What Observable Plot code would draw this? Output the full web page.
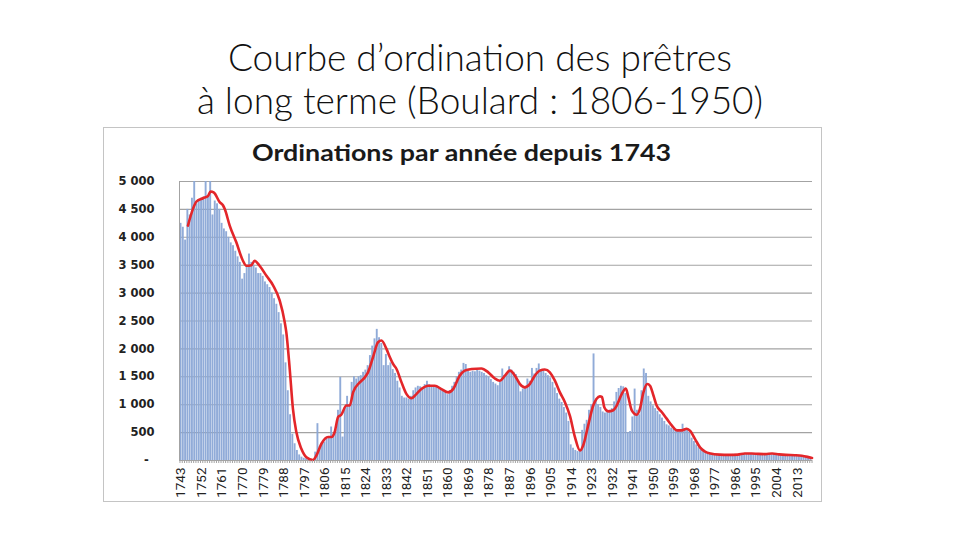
<!DOCTYPE html>
<html>
<head>
<meta charset="utf-8">
<script src="https://cdn.jsdelivr.net/npm/d3@7"></script>
<script src="https://cdn.jsdelivr.net/npm/@observablehq/plot@0.6"></script>
<style>
  html, body { margin: 0; padding: 0; background: #fff; width: 960px; height: 540px; overflow: hidden; }
  #slide-title { position: absolute; left: 0; top: 35px; width: 960px; text-align: center;
    font-family: Lato, "Open Sans", sans-serif; font-weight: 300; font-size: 37px; line-height: 43px; color: #111; }
  #frame { position: absolute; left: 103px; top: 127px; width: 719px; height: 375px;
    border: 1px solid #c4c4c4; box-sizing: border-box; }
  #chart-title { position: absolute; left: 103px; width: 719px; top: 139px; text-align: center;
    font-family: Lato, "Open Sans", sans-serif; font-weight: 700; font-size: 22px; color: #1a1a1a;
    transform: scaleX(1.22); transform-origin: 364px 50%; }
  #chart { position: absolute; left: 0; top: 0; }
  #chart g[aria-label="y-axis tick label"] { font-family: "DejaVu Sans", sans-serif; font-weight: bold; font-size: 11.5px; fill: #222; }
  #chart g[aria-label="x-axis tick label"] { font-family: "Liberation Sans Narrow", "Roboto", sans-serif; font-size: 13.5px; fill: #222; }
</style>
</head>
<body>
<div id="slide-title">Courbe d’ordination des prêtres<br>à long terme (Boulard : 1806-1950)</div>
<div id="frame"></div>
<div id="chart"></div>
<div id="chart-title">Ordinations par année depuis 1743</div>
<script>
// ---- data ----
const startYear = 1743;
const ordinations = [
  4250, 4180, 3950, 4500, 4400, 4700, 5000,                    // 1743-1749
  4600, 4650, 4700, 4720, 5000, 4750, 5000, 4400, 4650, 4600,  // 1750s
  4500, 4250, 4150, 4100, 4000, 3900, 3850, 3750, 3650, 3550,  // 1760s
  3250, 3350, 3500, 3700, 3550, 3500, 3450, 3350, 3350, 3300,  // 1770s
  3200, 3150, 3100, 3000, 2900, 2800, 2650, 2450, 2250, 1750,  // 1780s
  1250, 820, 470, 300, 180, 100, 60, 40, 30, 20,               // 1790s
  10, 10, 150, 660, 250, 300, 330, 380, 420, 600,              // 1800s
  450, 550, 900, 1490, 420, 950, 1150, 1000, 1400, 1500,       // 1810s
  1460, 1500, 1520, 1580, 1620, 1700, 1880, 2050, 2180, 2350,  // 1820s
  2200, 2100, 1700, 1900, 1700, 1750, 1630, 1560, 1420, 1300,  // 1830s
  1150, 1120, 1120, 1100, 1150, 1250, 1300, 1330, 1320, 1300,  // 1840s
  1360, 1420, 1360, 1340, 1330, 1310, 1300, 1280, 1250, 1220,  // 1850s
  1180, 1250, 1330, 1400, 1500, 1580, 1620, 1740, 1720, 1600,  // 1860s
  1580, 1600, 1590, 1620, 1600, 1580, 1560, 1520, 1500, 1450,  // 1870s
  1400, 1370, 1340, 1400, 1640, 1520, 1540, 1680, 1620, 1580,  // 1880s
  1540, 1400, 1230, 1280, 1300, 1460, 1420, 1650, 1550, 1650,  // 1890s
  1730, 1620, 1600, 1560, 1520, 1480, 1400, 1300, 1200, 1100,  // 1900s
  1040, 950, 850, 700, 280, 220, 180, 160, 180, 540,           // 1910s
  650, 720, 900, 1000, 1910, 1100, 1000, 950, 870, 850,        // 1920s
  880, 900, 930, 1050, 1220, 1290, 1330, 1320, 1200, 500,      // 1930s
  520, 780, 1280, 900, 820, 1250, 1640, 1560, 1150, 1050,      // 1940s
  980, 930, 880, 820, 760, 700, 640, 620, 580, 560,            // 1950s
  540, 520, 550, 650, 570, 540, 510, 400, 340, 280,            // 1960s
  230, 190, 160, 140, 120, 110, 100, 100, 95, 100,             // 1970s
  95, 95, 100, 100, 105, 110, 110, 105, 110, 115,              // 1980s
  120, 115, 110, 115, 120, 105, 110, 100, 105, 100,            // 1990s
  110, 105, 100, 110, 100, 95, 90, 95, 90, 90,                 // 2000s
  95, 85, 90, 85, 80, 75, 70, 65, 60, 55                       // 2010s
];

// smoothed trend (red curve)
const trendYears = [
  1746.0, 1748.2, 1749.7, 1752.6, 1754.8, 1755.9, 1757.4, 1759.9, 1761.4, 1762.1,
  1764.3, 1767.2, 1770.1, 1771.6, 1773.8, 1775.2, 1777.4, 1780.4, 1783.3, 1786.2,
  1788.4, 1789.1, 1790.6, 1792.0, 1793.5, 1795.7, 1797.9, 1800.8, 1802.3, 1804.5,
  1807.4, 1808.9, 1810.3, 1811.8, 1813.2, 1815.4, 1816.9, 1818.4, 1821.3, 1823.5,
  1824.9, 1827.1, 1829.3, 1830.8, 1833.0, 1834.4, 1835.9, 1837.4, 1839.6, 1841.8,
  1844.0, 1846.1, 1848.3, 1851.3, 1854.2, 1857.1, 1860.0, 1862.2, 1865.1, 1867.3,
  1870.3, 1874.6, 1877.6, 1880.5, 1882.7, 1884.9, 1887.1, 1889.3, 1891.5, 1893.6,
  1895.8, 1898.0, 1900.2, 1902.4, 1904.6, 1906.8, 1909.0, 1911.2, 1913.4, 1915.6,
  1917.8, 1919.2, 1921.4, 1923.6, 1925.1, 1926.5, 1927.4, 1928.5, 1930.2, 1932.4,
  1933.9, 1936.1, 1937.9, 1939.0, 1940.5, 1942.7, 1944.1, 1945.6, 1947.3, 1948.5,
  1950.0, 1951.4, 1953.6, 1955.8, 1958.0, 1960.2, 1962.4, 1964.6, 1966.1, 1968.3,
  1970.5, 1972.6, 1975.0, 1979.0, 1983.0, 1987.0, 1990.0, 1993.0, 1996.0, 1999.0,
  2002.0, 2005.0, 2008.0, 2012.0, 2015.0, 2017.5, 2019.5
];
const trendValues = [
  4210, 4510, 4640, 4700, 4740, 4820, 4800, 4630, 4570, 4510,
  4210, 3910, 3580, 3490, 3500, 3580, 3490, 3310, 3140, 2870,
  2480, 2300, 1640, 930, 510, 210, 60, 10, 90, 300,
  420, 420, 510, 780, 820, 985, 985, 1225, 1400, 1490,
  1580, 1850, 2120, 2150, 2000, 1860, 1730, 1640, 1400, 1190,
  1115, 1190, 1280, 1340, 1340, 1280, 1220, 1280, 1520, 1610,
  1640, 1650, 1580, 1470, 1430, 1520, 1610, 1520, 1370, 1310,
  1370, 1520, 1610, 1630, 1580, 1430, 1220, 1045, 800, 420,
  180, 270, 630, 985, 1105, 1150, 1140, 950, 880, 900,
  985, 1190, 1290, 1135, 900, 820, 930, 1220, 1370, 1340,
  1165, 985, 870, 750, 630, 540, 540, 570, 530, 380,
  230, 160, 125, 105, 100, 105, 125, 125, 118, 115,
  125, 110, 100, 95, 85, 65, 45
];

const yTicks = [0, 500, 1000, 1500, 2000, 2500, 3000, 3500, 4000, 4500, 5000];
const labelYears = [1743, 1752, 1761, 1770, 1779, 1788, 1797, 1806, 1815, 1824, 1833, 1842,
  1851, 1860, 1869, 1878, 1887, 1896, 1905, 1914, 1923, 1932, 1941, 1950, 1959, 1968,
  1977, 1986, 1995, 2004, 2013];

// ---- tables built from the arrays ----
const bars = ordinations.map((v, i) => ({year: startYear + i, value: v}));
const trend = trendYears.map((y, i) => ({year: y, value: trendValues[i]}));
const lastYear = startYear + ordinations.length - 1;
const boundaries = d3.range(startYear - 0.5, lastYear + 1, 1);

const fmtY = d => d === 0 ? "-\u2002" : d3.format(",")(d).replace(",", " ");

const chart = Plot.plot({
  width: 960,
  height: 540,
  marginLeft: 179,
  marginRight: 148,
  marginTop: 181,
  marginBottom: 80,
  x: {domain: [startYear - 0.7, lastYear + 0.7], label: null},
  y: {domain: [0, 5000], label: null},
  marks: [
    Plot.ruleY(yTicks.slice(1), {stroke: "#a3a3a3", strokeWidth: 1.1}),
    Plot.rectY(bars, {x1: d => d.year - 0.45, x2: d => d.year + 0.38, y: "value", fill: "#8aa6d6", fillOpacity: 0.95}),
    Plot.ruleY([0], {stroke: "#a3a3a3"}),
    Plot.ruleX([startYear - 0.7], {y1: 0, y2: 5000, stroke: "#a3a3a3"}),
    Plot.line(trend, {x: "year", y: "value", stroke: "#e3262a", strokeWidth: 2.6, curve: "monotone-x"}),
    Plot.axisY({ticks: yTicks, tickSize: 0, tickPadding: 25, tickFormat: fmtY, label: null}),
    Plot.axisX({ticks: boundaries, tickSize: 3, stroke: "#a3a3a3", tickFormat: () => "", label: null}),
    Plot.axisX({ticks: labelYears, tickSize: 0, tickPadding: 7, tickRotate: -90, tickFormat: d => String(d), label: null})
  ]
});
document.getElementById("chart").appendChild(chart);
</script>
</body>
</html>
